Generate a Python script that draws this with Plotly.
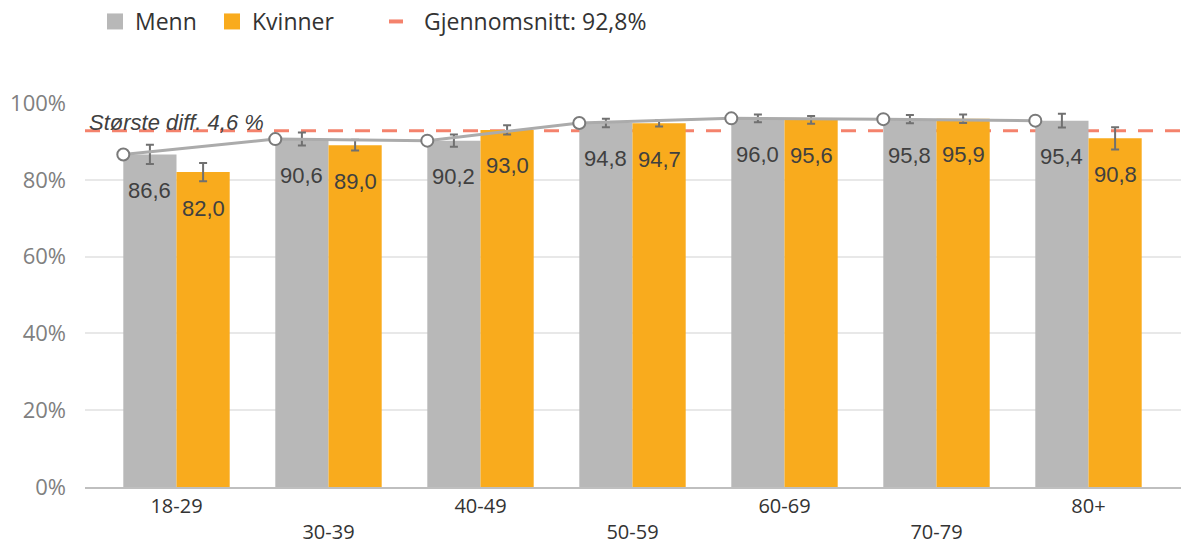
import plotly.graph_objects as go

# ---- data ----
categories = ["18-29", "30-39", "40-49", "50-59", "60-69", "70-79", "80+"]
menn = [86.6, 90.6, 90.2, 94.8, 96.0, 95.8, 95.4]
kvinner = [82.0, 89.0, 93.0, 94.7, 95.6, 95.9, 90.8]
menn_err = [2.5, 1.7, 1.6, 1.1, 1.0, 1.1, 1.8]
kvinner_err = [2.4, 1.4, 1.2, 0.8, 1.0, 1.1, 2.9]
gjennomsnitt = 92.8
diff_text = "Største diff. 4,6 %"
y_ticks = [0, 20, 40, 60, 80, 100]

GRAY = "#B8B8B8"
ORANGE = "#F9AB1D"
DASH = "#F4826C"
LABEL = "#404040"

def fmt(v):
    return f"{v:.1f}".replace(".", ",")

n = len(categories)
xs = list(range(n))
bargap = 0.30
bw = (1 - bargap) / 2

# tick labels staggered on two rows
ticktext = [c if i % 2 == 0 else "<br>" + c for i, c in enumerate(categories)]

fig = go.Figure()

fig.add_trace(go.Bar(
    x=xs, y=menn, name="Menn", marker=dict(color=GRAY, line=dict(width=0)),
    error_y=dict(type="data", array=menn_err, color="#707070", thickness=2, width=4),
    showlegend=False,
))
fig.add_trace(go.Bar(
    x=xs, y=kvinner, name="Kvinner", marker=dict(color=ORANGE, line=dict(width=0)),
    error_y=dict(type="data", array=kvinner_err, color="#707070", thickness=2, width=4),
    showlegend=False,
))

# trend line through Menn values at the left edge of the Menn bars
fig.add_trace(go.Scatter(
    x=[x - bw for x in xs], y=menn, mode="lines+markers",
    line=dict(color="#ABABAB", width=3),
    marker=dict(symbol="circle", size=12, color="white", line=dict(color="#7A7A7A", width=2)),
    showlegend=False, hoverinfo="skip",
))

# legend entries
fig.add_trace(go.Scatter(x=[None], y=[None], mode="markers", name="Menn",
                         marker=dict(symbol="square", size=19, color=GRAY), legend="legend"))
fig.add_trace(go.Scatter(x=[None], y=[None], mode="markers", name="Kvinner",
                         marker=dict(symbol="square", size=19, color=ORANGE), legend="legend2"))
fig.add_trace(go.Scatter(x=[None], y=[None], mode="lines",
                         name="Gjennomsnitt: " + fmt(gjennomsnitt) + "%",
                         line=dict(color=DASH, width=4, dash="14px,40px"), legend="legend3"))

# average line
fig.add_shape(type="line", xref="paper", x0=0, x1=1, yref="y", y0=gjennomsnitt, y1=gjennomsnitt,
              line=dict(color=DASH, width=3, dash="15px,12px"), layer="below")

# data labels
annotations = []
for i in xs:
    annotations.append(dict(x=i - bw / 2, y=menn[i], xref="x", yref="y", text=fmt(menn[i]),
                            showarrow=False, yanchor="middle", yshift=-36,
                            font=dict(family="Liberation Sans, Arial", size=22, color=LABEL)))
    annotations.append(dict(x=i + bw / 2, y=kvinner[i], xref="x", yref="y", text=fmt(kvinner[i]),
                            showarrow=False, yanchor="middle", yshift=-36,
                            font=dict(family="Liberation Sans, Arial", size=22, color=LABEL)))
annotations.append(dict(x=0.002, xref="paper", y=95.0, yref="y", text="<i>" + diff_text + "</i>",
                        showarrow=False, xanchor="left", yanchor="middle",
                        font=dict(family="Liberation Sans, Arial", size=22, color=LABEL)))

W, H = 1181, 545
px_left, px_right = 85, 1181
unit = 152.0
c0 = 176.5

def legend_at(px):
    return dict(orientation="h", xref="container", x=px / W, xanchor="left",
                yref="container", y=1.0, yanchor="top",
                font=dict(size=23, color="#333333"), itemsizing="trace",
                bgcolor="rgba(0,0,0,0)")

fig.update_layout(
    width=W, height=H,
    margin=dict(l=px_left, r=W - px_right, t=103, b=58, autoexpand=False),
    paper_bgcolor="white", plot_bgcolor="white",
    barmode="group", bargap=bargap, bargroupgap=0,
    font=dict(family="Open Sans, Noto Sans, sans-serif", size=20, color="#333333"),
    xaxis=dict(
        range=[-(c0 - px_left) / unit, (px_right - c0) / unit],
        tickvals=xs, ticktext=ticktext, showgrid=False, zeroline=False,
        showline=True, linecolor="#BFBFBF", linewidth=2, ticks="",
        tickfont=dict(size=20, color="#333333"), automargin=False,
    ),
    yaxis=dict(
        range=[0, 100], tickvals=y_ticks, ticktext=[f"{v}%" for v in y_ticks],
        showgrid=True, gridcolor="#E8E8E8", gridwidth=2, zeroline=False,
        showline=False, ticks="", tickfont=dict(size=22, color="#808080"),
        ticklabelstandoff=18, automargin=False,
    ),
    legend=legend_at(95),
    legend2=legend_at(212),
    legend3=legend_at(384),
    annotations=annotations,
)

fig.write_html("out.html", config={"displayModeBar": False},
               post_script="document.body.style.margin='0';")
